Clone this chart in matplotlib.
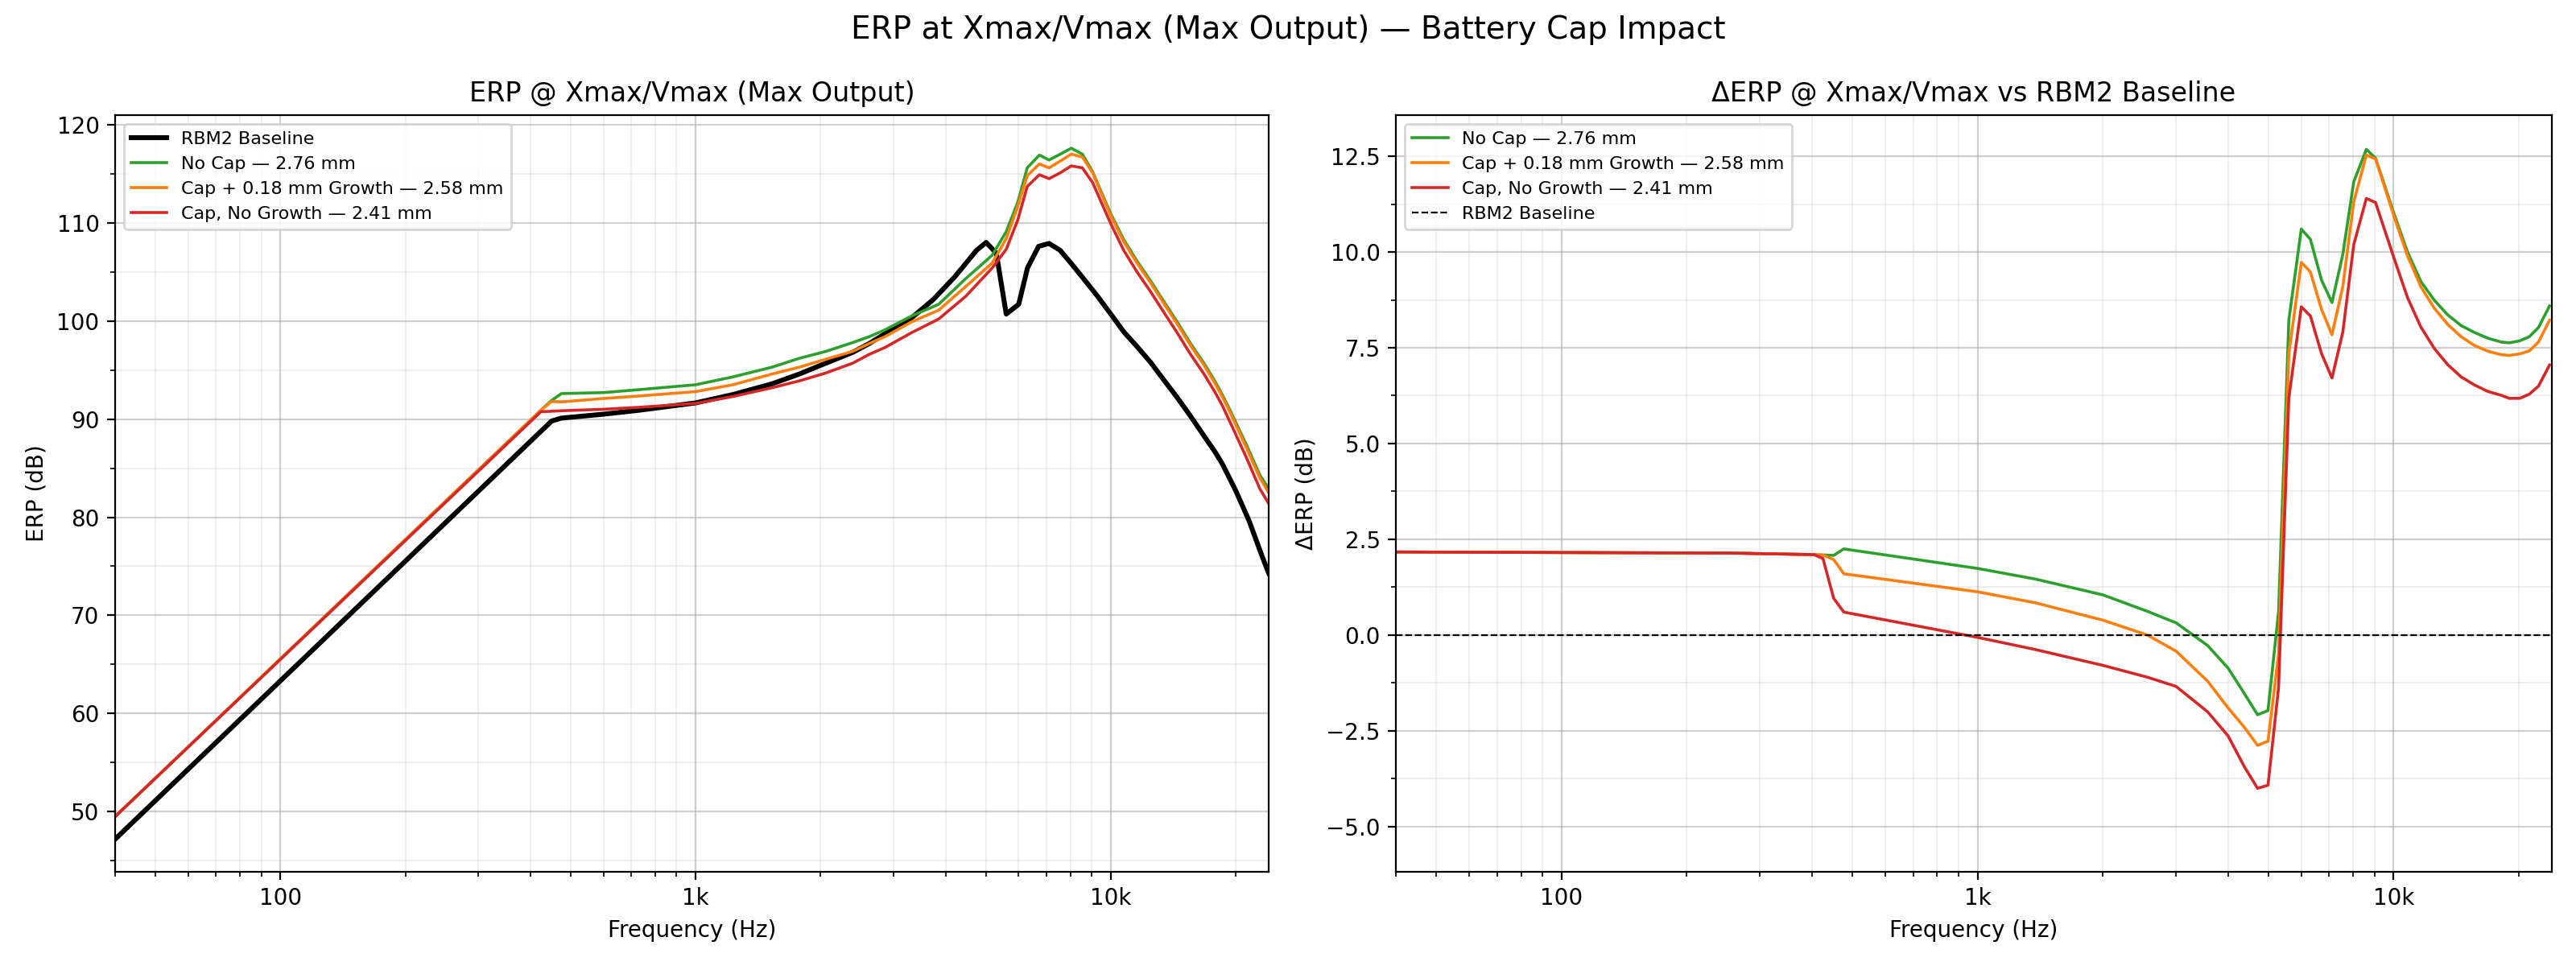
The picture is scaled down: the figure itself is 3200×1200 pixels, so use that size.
import matplotlib
matplotlib.use("Agg")
import matplotlib.pyplot as plt
from matplotlib.ticker import FuncFormatter, AutoMinorLocator, MultipleLocator, NullFormatter

# ---- left panel: absolute ERP (dB) at Xmax/Vmax ----
base_freq = [40, 450, 475, 600, 730, 1000, 1230, 1530, 1780, 2060,
             2390, 2620, 2860, 3310, 3740, 4210, 4750, 5010, 5300, 5600,
             6000, 6300, 6700, 7100, 7550, 8050, 8600, 9260, 10000, 10740,
             11560, 12460, 13410, 14450, 15560, 16760, 17800, 18580, 20000, 21500,
             23200, 24000]
base_erp = [47.2, 89.8, 90.1, 90.5, 90.9, 91.65, 92.5, 93.6, 94.6, 95.7,
            96.8, 97.7, 98.7, 100.3, 102.2, 104.5, 107.2, 108.0, 106.9, 100.7,
            101.7, 105.4, 107.6, 107.9, 107.2, 105.8, 104.3, 102.6, 100.7, 98.9,
            97.4, 95.8, 94.0, 92.2, 90.3, 88.3, 86.7, 85.4, 82.7, 79.7,
            75.9, 74.3]

cap_freq = [40, 424, 450, 475, 600, 730, 1000, 1230, 1530, 1780,
            2060, 2390, 2620, 2860, 3310, 3850, 4470, 5180, 5600, 5970,
            6290, 6730, 7100, 7560, 8030, 8540, 9040, 10000, 10740, 11560,
            12460, 13410, 14450, 15560, 16760, 17790, 18600, 19420, 21200, 22850,
            24000]
nocap_erp = [49.5, 90.9, 91.9, 92.6, 92.7, 93.0, 93.5, 94.3, 95.3, 96.2,
             96.9, 97.8, 98.4, 99.1, 100.5, 101.7, 104.3, 106.7, 109.1, 112.1,
             115.6, 116.9, 116.4, 117.0, 117.6, 117.0, 115.2, 110.9, 108.3, 106.1,
             104.1, 102.0, 99.9, 97.7, 95.7, 93.9, 92.4, 90.8, 87.4, 84.3,
             82.9]
growth_erp = [49.5, 90.9, 91.8, 91.75, 92.1, 92.35, 92.8, 93.5, 94.6, 95.3,
              96.1, 96.9, 97.7, 98.4, 99.9, 101.1, 103.5, 105.9, 108.4, 111.7,
              114.8, 116.0, 115.6, 116.3, 117.0, 116.7, 115.1, 110.7, 108.1, 105.9,
              103.9, 101.8, 99.7, 97.5, 95.5, 93.7, 92.2, 90.6, 87.1, 84.0,
              82.5]
nogrowth_erp = [49.5, 90.75, 90.8, 90.85, 91.0, 91.2, 91.6, 92.3, 93.2, 93.9,
                94.7, 95.7, 96.6, 97.3, 98.8, 100.2, 102.5, 105.4, 107.3, 110.3,
                113.7, 114.9, 114.5, 115.1, 115.8, 115.6, 114.1, 109.9, 107.2, 105.0,
                103.0, 100.9, 98.8, 96.6, 94.6, 92.8, 91.3, 89.6, 86.1, 82.9,
                81.4]

# ---- right panel: delta vs RBM2 baseline (dB) ----
d_freq = [40, 257, 404, 425, 451, 477, 1000, 1380, 2000, 2560,
          3000, 3570, 4000, 4380, 4710, 4990, 5290, 5600, 6000, 6310,
          6710, 7110, 7550, 8020, 8600, 9050, 10030, 10800, 11630, 12530,
          13490, 14530, 15640, 16850, 18140, 18970, 20100, 21200, 22300, 23700]
d_nocap = [2.17, 2.14, 2.10, 2.09, 2.08, 2.25, 1.74, 1.46, 1.05, 0.62,
           0.32, -0.27, -0.86, -1.53, -2.08, -1.97, 0.6, 8.22, 10.6, 10.33,
           9.27, 8.68, 9.94, 11.83, 12.68, 12.45, 10.99, 10.0, 9.23, 8.74,
           8.36, 8.08, 7.9, 7.75, 7.65, 7.63, 7.68, 7.79, 8.03, 8.59]
d_growth = [2.17, 2.14, 2.10, 2.09, 1.97, 1.60, 1.13, 0.84, 0.39, 0.0,
            -0.42, -1.2, -1.9, -2.41, -2.88, -2.77, -0.5, 7.35, 9.73, 9.48,
            8.5, 7.84, 9.1, 11.31, 12.53, 12.43, 10.92, 9.9, 9.09, 8.53,
            8.11, 7.79, 7.56, 7.41, 7.32, 7.3, 7.34, 7.42, 7.65, 8.22]
d_nogrowth = [2.17, 2.14, 2.10, 2.0, 0.96, 0.60, -0.06, -0.38, -0.79, -1.1,
              -1.34, -2.0, -2.63, -3.44, -4.0, -3.92, -1.38, 6.19, 8.57, 8.33,
              7.35, 6.71, 7.91, 10.19, 11.4, 11.29, 9.83, 8.81, 8.04, 7.48,
              7.06, 6.74, 6.53, 6.36, 6.26, 6.18, 6.18, 6.29, 6.5, 7.05]

labels = ["No Cap — 2.76 mm", "Cap + 0.18 mm Growth — 2.58 mm", "Cap, No Growth — 2.41 mm"]
colors = ["#2ca02c", "#ff7f0e", "#d62728"]


def hz_fmt(v, pos):
    if v >= 1000:
        return f"{v / 1000:g}k"
    return f"{v:g}"


def style_axis(ax):
    ax.set_xscale("log")
    ax.set_xlim(40, 24000)
    ax.xaxis.set_major_formatter(FuncFormatter(hz_fmt))
    ax.xaxis.set_minor_formatter(NullFormatter())
    ax.yaxis.set_minor_locator(AutoMinorLocator(2))
    ax.grid(True, which="major", color="#b0b0b0", alpha=0.6, linewidth=0.8)
    ax.grid(True, which="minor", color="#b0b0b0", alpha=0.25, linewidth=0.6)
    ax.set_xlabel("Frequency (Hz)")


fig = plt.figure(figsize=(16, 6), dpi=200)
ax1 = fig.add_axes([0.0447, 0.0975, 0.4478, 0.7836])
ax2 = fig.add_axes([0.5419, 0.0975, 0.4487, 0.7836])

# left panel
ax1.plot(base_freq, base_erp, color="black", lw=2.2, label="RBM2 Baseline")
for vals, c, lab in zip([nocap_erp, growth_erp, nogrowth_erp], colors, labels):
    ax1.plot(cap_freq, vals, color=c, lw=1.3, label=lab)
style_axis(ax1)
ax1.set_ylim(43.87, 121.0)
ax1.yaxis.set_major_locator(MultipleLocator(10))
ax1.set_ylabel("ERP (dB)")
ax1.set_title("ERP @ Xmax/Vmax (Max Output)", fontsize=12)
ax1.legend(loc="upper left", fontsize=8)

# right panel
for vals, c, lab in zip([d_nocap, d_growth, d_nogrowth], colors, labels):
    ax2.plot(d_freq, vals, color=c, lw=1.3, label=lab)
ax2.axhline(0, color="black", ls="--", lw=0.8, label="RBM2 Baseline")
style_axis(ax2)
ax2.set_ylim(-6.18, 13.58)
ax2.yaxis.set_major_locator(MultipleLocator(2.5))
ax2.set_ylabel("ΔERP (dB)")
ax2.set_title("ΔERP @ Xmax/Vmax vs RBM2 Baseline", fontsize=12)
ax2.legend(loc="upper left", fontsize=8)

fig.suptitle("ERP at Xmax/Vmax (Max Output) — Battery Cap Impact", fontsize=14, y=0.985)
fig.savefig("out.png", dpi=200)
